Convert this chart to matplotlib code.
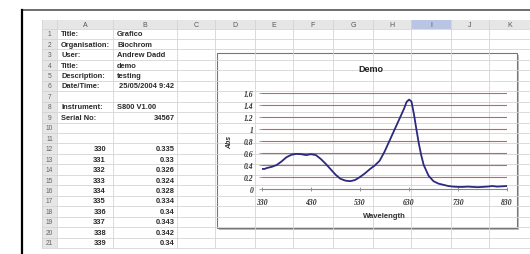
import matplotlib.pyplot as plt
from matplotlib.patches import Rectangle

# sheet contents
col_names = ['A', 'B', 'C', 'D', 'E', 'F', 'G', 'H', 'I', 'J', 'K']
info_keys = ['Title:', 'Organisation:', 'User:', 'Title:', 'Description:',
             'Date/Time:', '', 'Instrument:', 'Serial No:']
info_vals = ['Grafico', 'Biochrom', 'Andrew Dadd', 'demo', 'testing',
             '25/05/2004 9:42', '', 'S800 V1.00', '34567']
table_wl = [330, 331, 332, 333, 334, 335, 336, 337, 338, 339]
table_abs = [0.335, 0.33, 0.326, 0.324, 0.328, 0.334, 0.34, 0.343, 0.342, 0.34]

# spectrum
wavelength = [330, 335, 340, 350, 360, 370, 380, 390, 400, 410, 420, 430,
              440, 450, 460, 470, 480, 490, 500, 510, 520, 530, 540, 550,
              560, 570, 580, 590, 600, 610, 620, 625, 630, 635, 640, 645,
              650, 655, 660, 670, 680, 690, 700, 710, 720, 730, 740, 750,
              760, 770, 780, 790, 800, 810, 820, 830]
absorb = [0.335, 0.334, 0.35, 0.37, 0.40, 0.46, 0.53, 0.57, 0.585, 0.58,
          0.565, 0.58, 0.565, 0.50, 0.42, 0.33, 0.24, 0.17, 0.14, 0.13,
          0.15, 0.20, 0.26, 0.33, 0.39, 0.47, 0.62, 0.80, 0.98, 1.16,
          1.34, 1.45, 1.49, 1.46, 1.25, 1.00, 0.76, 0.56, 0.40, 0.22,
          0.13, 0.09, 0.07, 0.05, 0.04, 0.035, 0.035, 0.04, 0.035, 0.03,
          0.035, 0.04, 0.05, 0.04, 0.045, 0.05]
yticks = [0, 0.2, 0.4, 0.6, 0.8, 1.0, 1.2, 1.4, 1.6]
ytick_labels = ['0', '0.2', '0.4', '0.6', '0.8', '1', '1.2', '1.4', '1.6']
xticks = [330, 430, 530, 630, 730, 830]

W, H = 530, 255
fig = plt.figure(figsize=(W / 100, H / 100), dpi=100)
bg = fig.add_axes([0, 0, 1, 1])
bg.set_xlim(0, W)
bg.set_ylim(H, 0)
bg.axis('off')

col_edges = [42, 57, 113, 177, 215, 255, 293, 333, 373, 411, 451, 489, 530]
row_top = 20.5
row_h = 10.45
n_rows = 21
sheet_bottom = row_top + 9 + n_rows * row_h
grid_c = '#d4d4d4'
txt_c = '#2a2a2a'
sheet_font = 'Liberation Sans'
fs = 5.4

# header row and row-number column
bg.add_patch(Rectangle((col_edges[0], row_top), W - col_edges[0], 9,
                       fc='#e6e6e6', ec='none'))
bg.add_patch(Rectangle((col_edges[0], row_top), col_edges[1] - col_edges[0],
                       sheet_bottom - row_top, fc='#e6e6e6', ec='none'))
bg.add_patch(Rectangle((col_edges[9], row_top), col_edges[10] - col_edges[9], 9,
                       fc='#b9c5e2', ec='none'))

for x in col_edges:
    bg.plot([x, x], [row_top, sheet_bottom], color=grid_c, lw=0.6)
for i in range(n_rows + 1):
    y = row_top + 9 + i * row_h
    bg.plot([col_edges[0], W], [y, y], color=grid_c, lw=0.6)

for i, name in enumerate(col_names):
    bg.text((col_edges[i + 1] + col_edges[i + 2]) / 2, row_top + 4.8, name,
            ha='center', va='center', fontsize=5, color='#555555',
            family=sheet_font)
for r in range(n_rows):
    yc = row_top + 9 + (r + 0.5) * row_h
    bg.text((col_edges[0] + col_edges[1]) / 2, yc, str(r + 1), ha='center',
            va='center', fontsize=4.8, color='#666666', family=sheet_font)

for r, (k, v) in enumerate(zip(info_keys, info_vals)):
    yc = row_top + 9 + (r + 0.5) * row_h
    bg.text(col_edges[1] + 4, yc, k, ha='left', va='center', fontsize=fs,
            weight='bold', color=txt_c, family=sheet_font)
    if v == '34567':
        bg.text(col_edges[3] - 2, yc, v, ha='right', va='center', fontsize=fs,
                weight='bold', color=txt_c, family=sheet_font)
    elif v.startswith('25/'):
        bg.text(col_edges[2] + 6, yc, v, ha='left', va='center', fontsize=fs,
                weight='bold', color=txt_c, family=sheet_font)
    else:
        bg.text(col_edges[2] + 4, yc, v, ha='left', va='center', fontsize=fs,
                weight='bold', color=txt_c, family=sheet_font)

for j, (a, b) in enumerate(zip(table_wl, table_abs)):
    yc = row_top + 9 + (11 + j + 0.5) * row_h
    bg.text(106, yc, str(a), ha='right', va='center', fontsize=fs,
            weight='bold', color=txt_c, family=sheet_font)
    bg.text(175, yc, '{:g}'.format(b), ha='right', va='center', fontsize=fs,
            weight='bold', color=txt_c, family=sheet_font)

# window frame lines
bg.plot([22, W], [11, 11], color='#555555', lw=1.2, solid_capstyle='butt')
bg.plot([22, 22], [10.5, H], color='black', lw=1.6)

# chart box
bg.add_patch(Rectangle((219, 56), 300, 175, fc='#bbbbbb', ec='none'))
bg.add_patch(Rectangle((217, 54), 300, 175, fc='white', ec='#777777', lw=0.8))
bg.text(371, 70, 'Demo', ha='center', va='center', fontsize=6.5,
        weight='bold', color='#222222', family='Liberation Sans')

# plot area
x0, x1, y0, y1 = 262, 507, 94, 190
ax = fig.add_axes([x0 / W, 1 - y1 / H, (x1 - x0) / W, (y1 - y0) / H])
ax.set_facecolor('none')
ax.plot(wavelength, absorb, color='#2a2a7e', lw=1.3)
ax.set_xlim(330, 830)
ax.set_ylim(0, 1.6)
ax.set_yticks(yticks)
ax.set_yticklabels(ytick_labels)
ax.set_xticks(xticks)
for y in yticks[1:]:
    ax.axhline(y, color='#d65c5c', lw=0.8, zorder=0)
for s in ['top', 'right', 'left']:
    ax.spines[s].set_visible(False)
ax.spines['bottom'].set_color('#888888')
ax.spines['bottom'].set_linewidth(0.8)
ax.tick_params(axis='x', direction='inout', length=3, width=0.6,
               color='#888888', pad=5)
ax.tick_params(axis='y', direction='out', length=2, width=0.6,
               color='#888888', pad=4)
tick_font = dict(family='Liberation Serif', style='italic', weight='bold',
                 size=5.5)
for lab in ax.get_xticklabels() + ax.get_yticklabels():
    lab.set_fontproperties(tick_font)
    lab.set_color('#333333')
ax.set_xlabel('Wavelength', fontsize=5.5, weight='bold', color='#333333',
              family='Liberation Sans', labelpad=4)
ax.set_ylabel('Abs', fontsize=5, weight='bold', style='italic',
              color='#333333', family='Liberation Sans')
ax.yaxis.set_label_coords(-0.118, 0.5)

fig.savefig('out.png', dpi=100)
